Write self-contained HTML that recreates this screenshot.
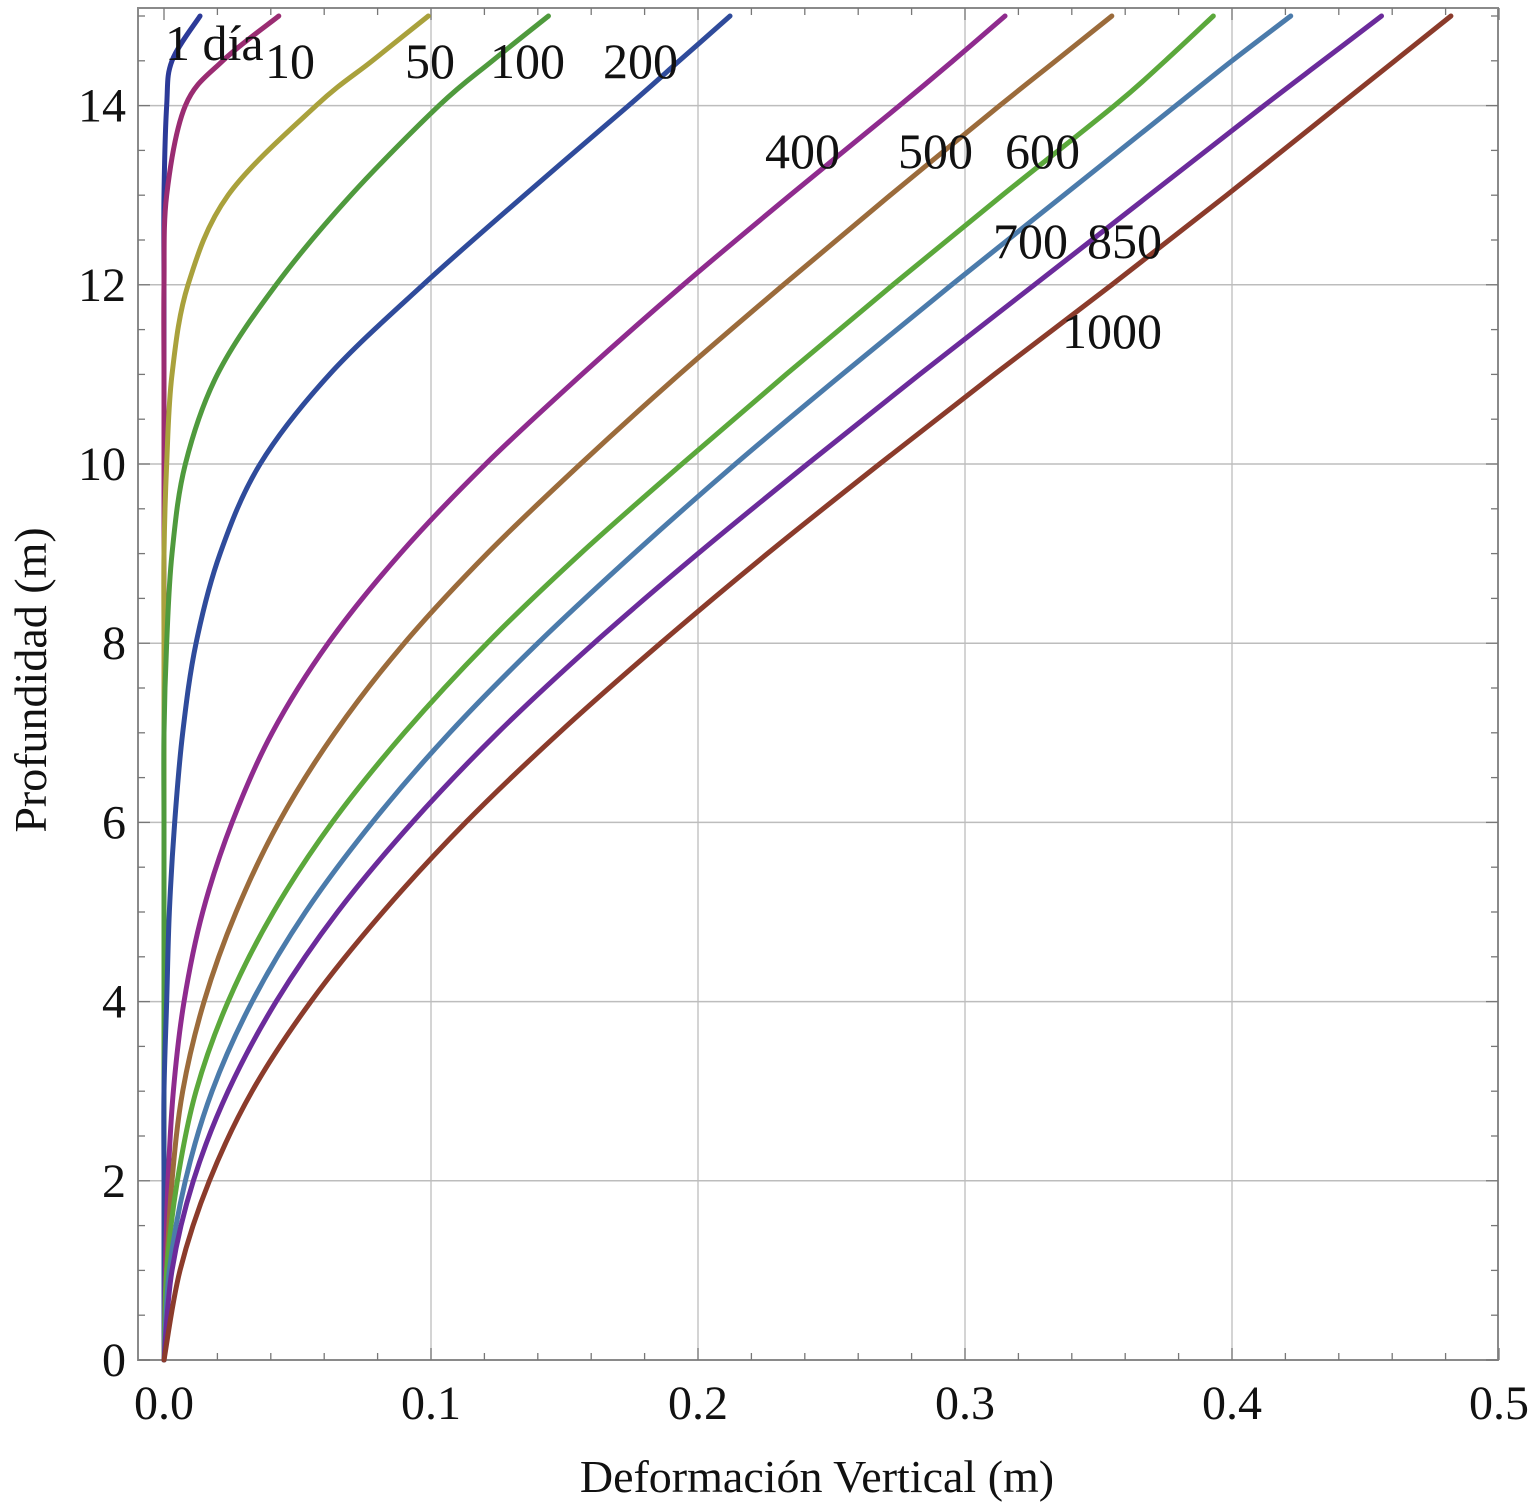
<!DOCTYPE html>
<html><head><meta charset="utf-8"><style>
html,body{margin:0;padding:0;background:#fff;}
svg{display:block;font-family:"Liberation Serif",serif;}
</style></head><body>
<svg id="chart" width="1532" height="1509" viewBox="0 0 1532 1509" xmlns="http://www.w3.org/2000/svg"></svg>
<script>
const depths = [0,1,2,3,4,5,6,7,8,9,10,11,12,13,14,14.5,15];
const seriesNames = ["1 día","10","50","100","200","400","500","600","700","850","1000"];
const s1 =    [0,0,0,0,0,0,0,0,0,0,0,0,0,0,0.001,0.003,0.0135];
const s10 =   [0,0,0,0,0,0,0,0,0,0,0,0,0,0.001,0.008,0.022,0.043];
const s50 =   [0,0,0,0,0,0,0,0,0,0,0.001,0.003,0.009,0.024,0.057,0.078,0.099];
const s100 =  [0,0,0,0,0,0,0,0,0.001,0.003,0.008,0.020,0.042,0.070,0.103,0.123,0.144];
const s200 =  [0,0,0,0,0.001,0.002,0.004,0.007,0.012,0.021,0.036,0.062,0.097,0.135,0.174,0.193,0.212];
const s400 =  [0,0.0005,0.0015,0.0035,0.0075,0.0145,0.0255,0.0405,0.0615,0.0885,0.1205,0.1565,0.1945,0.2345,0.2755,0.2955,0.315];
const s500 =  [0,0.001,0.003,0.007,0.015,0.027,0.043,0.064,0.090,0.121,0.156,0.193,0.232,0.272,0.313,0.334,0.355];
const s600 =  [0,0.001,0.005,0.012,0.024,0.041,0.063,0.090,0.121,0.156,0.194,0.233,0.273,0.314,0.356,0.375,0.393];
const s700 =  [0,0.002,0.008,0.018,0.033,0.053,0.078,0.107,0.140,0.176,0.214,0.254,0.295,0.337,0.379,0.400,0.422];
const s850 =  [0,0.003,0.011,0.024,0.042,0.065,0.093,0.125,0.161,0.200,0.241,0.283,0.326,0.369,0.412,0.434,0.456];
const s1000 = [0,0.006,0.017,0.033,0.055,0.082,0.113,0.148,0.186,0.226,0.268,0.311,0.355,0.398,0.440,0.461,0.482];
const xTicks = ["0.0","0.1","0.2","0.3","0.4","0.5"];
const yTicks = ["0","2","4","6","8","10","12","14"];

const allSeries = [s1,s10,s50,s100,s200,s400,s500,s600,s700,s850,s1000];
const colors = ["#2c3a98","#9a2c72","#a9a13c","#4f9a3d","#2f4b9b","#8f2b8e","#9b6b3b","#5ba83b","#4b7bab","#6b2b9b","#8b3b2b"];
const labelPos = [[165,60],[265,78],[405,78],[490,78],[603,78],[765,168],[898,168],[1005,168],[993,258],[1087,258],[1062,348]];

const X0=164, XS=2670, Y0=1360, YS=89.6;
const L=138, R=1498, T=8, B=1360;
function sx(v){return X0+v*XS;}
function sy(v){return Y0-v*YS;}
const svg=document.getElementById('chart');
const NS='http://www.w3.org/2000/svg';
function mk(tag,attrs,parent){const e=document.createElementNS(NS,tag);for(const k in attrs)e.setAttribute(k,attrs[k]);(parent||svg).appendChild(e);return e;}

for(let i=1;i<xTicks.length-1;i++){const l=mk('line',{x1:sx(+xTicks[i]),x2:sx(+xTicks[i]),y1:T,y2:B,stroke:'#bdbdbd','stroke-width':1.3});

}
for(let i=1;i<yTicks.length;i++){const l=mk('line',{x1:L,x2:R,y1:sy(+yTicks[i]),y2:sy(+yTicks[i]),stroke:'#bdbdbd','stroke-width':1.5});

}
const fr=mk('rect',{x:L,y:T,width:R-L,height:B-T,fill:'none',stroke:'#8a8a8a','stroke-width':2});


for(let v=0;v<=0.5001;v+=0.02){const major=Math.abs(v*10-Math.round(v*10))<1e-6;const len=major?12:7;
mk('line',{x1:sx(v),x2:sx(v),y1:B,y2:B-len,stroke:'#777','stroke-width':1.3});
mk('line',{x1:sx(v),x2:sx(v),y1:T,y2:T+len,stroke:'#777','stroke-width':1.3});}
for(let v=0;v<=15.01;v+=0.5){const major=Math.abs(v/2-Math.round(v/2))<1e-6;const len=major?12:7;
mk('line',{x1:L,x2:L+len,y1:sy(v),y2:sy(v),stroke:'#777','stroke-width':1.3});
mk('line',{x1:R,x2:R-len,y1:sy(v),y2:sy(v),stroke:'#777','stroke-width':1.3});}
xTicks.forEach(t=>{const e=mk('text',{x:sx(+t),y:1419,'font-size':48,'text-anchor':'middle',fill:'#111'});e.textContent=t;

});
yTicks.forEach(t=>{const e=mk('text',{x:126,y:sy(+t)+16,'font-size':48,'text-anchor':'end',fill:'#111'});e.textContent=t;

});
const xt=mk('text',{x:817,y:1492,'font-size':46,'text-anchor':'middle',fill:'#111'});xt.textContent='Deformación Vertical (m)';


const yt=mk('text',{x:0,y:0,'font-size':46,'text-anchor':'middle',fill:'#111',transform:'translate(46,680) rotate(-90)'});yt.textContent='Profundidad (m)';


function pathFor(vals){const p=vals.map((v,i)=>[sx(v),sy(depths[i])]);let d='M'+p[0][0]+','+p[0][1];
for(let i=0;i<p.length-1;i++){const p0=p[Math.max(0,i-1)],p1=p[i],p2=p[i+1],p3=p[Math.min(p.length-1,i+2)];
const c1=[p1[0]+(p2[0]-p0[0])/6,p1[1]+(p2[1]-p0[1])/6],c2=[p2[0]-(p3[0]-p1[0])/6,p2[1]-(p3[1]-p1[1])/6];
d+=' C'+c1[0]+','+c1[1]+' '+c2[0]+','+c2[1]+' '+p2[0]+','+p2[1];}return d;}
allSeries.forEach((vals,i)=>{const e=mk('path',{d:pathFor(vals),fill:'none',stroke:colors[i],'stroke-width':5,'stroke-linecap':'round','stroke-linejoin':'round'});

});
seriesNames.forEach((n,i)=>{const e=mk('text',{x:labelPos[i][0],y:labelPos[i][1],'font-size':50,fill:'#111'});e.textContent=n;

});
</script>
</body></html>
